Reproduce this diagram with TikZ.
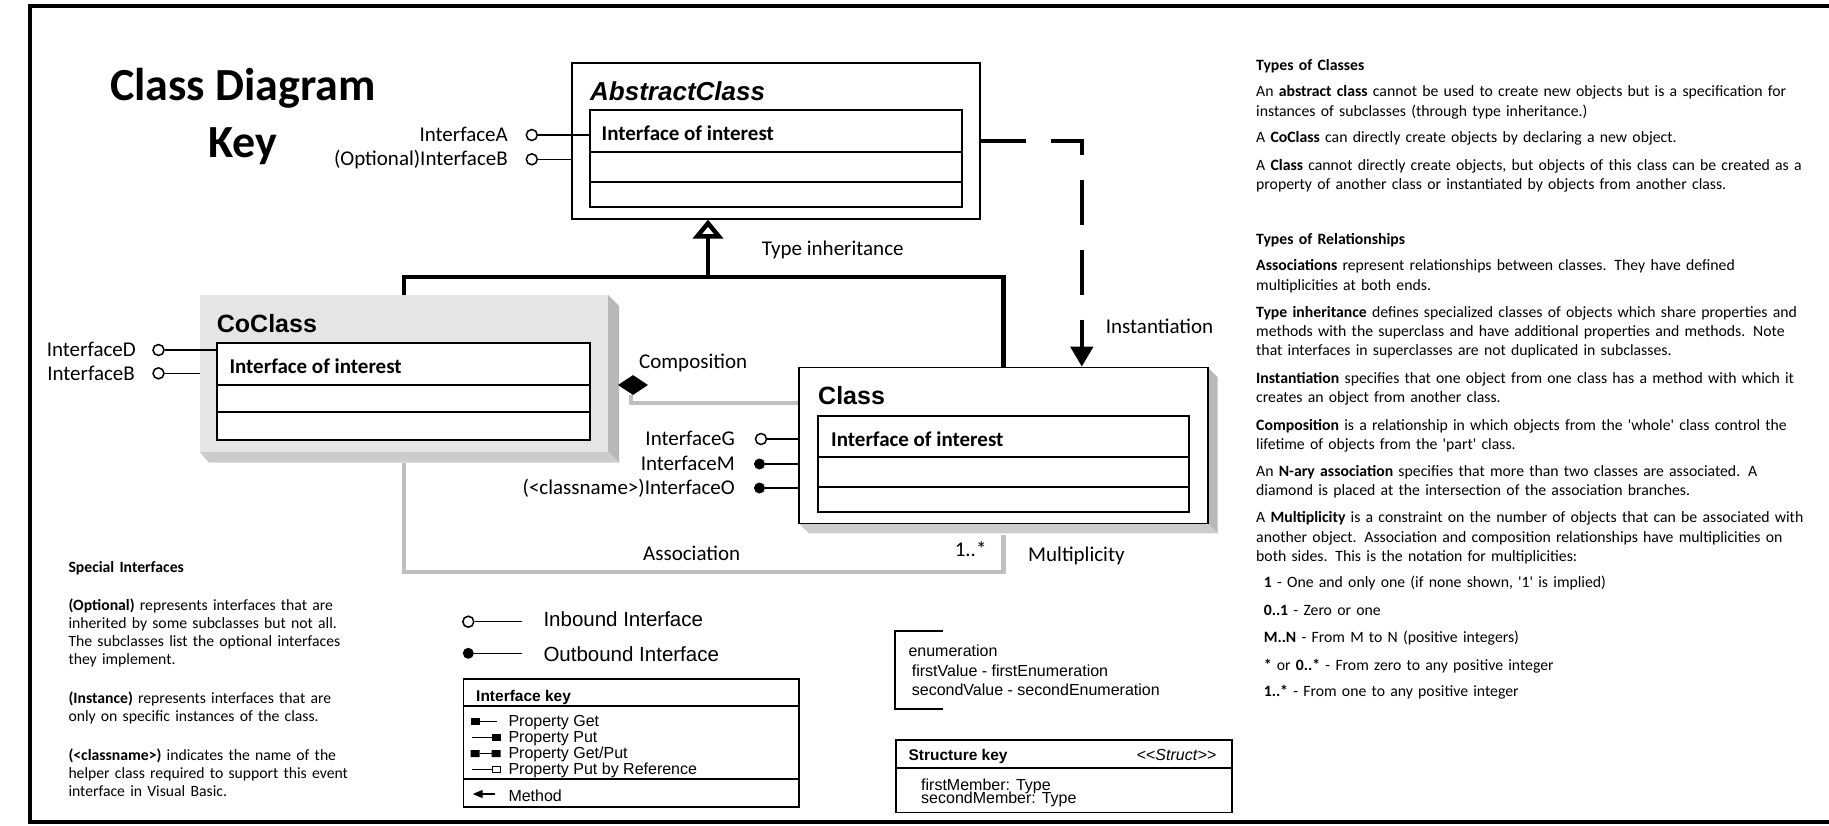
\documentclass[tikz,border=0pt]{standalone}
\usepackage{fontspec}
\setmainfont{Carlito}
\newfontfamily\arialfont{Liberation Sans}
\usetikzlibrary{arrows.meta,shapes.geometric}

\newcommand{\sq}{\textquotesingle}

\begin{document}
\begin{tikzpicture}[x=1pt,y=-1pt,
    lbl/.style={inner sep=0pt,anchor=base west,font=\fontsize{21}{25}\selectfont},
    cname/.style={inner sep=0pt,anchor=base west,font=\arialfont\bfseries\fontsize{25}{30}\selectfont},
    ioi/.style={inner sep=0pt,anchor=base west,font=\bfseries\fontsize{21}{25}\selectfont},
    box/.style={draw,line width=1.6pt,fill=white,inner sep=0pt,anchor=north west},
    ibox/.style={draw,line width=2pt,fill=white,inner sep=0pt,anchor=north west},
    inbound/.style={circle,draw,fill=white,line width=1.5pt,inner sep=0pt,minimum size=11pt},
    outbound/.style={circle,fill=black,inner sep=0pt,minimum size=11pt},
    wire/.style={line width=1.5pt},
    inherit/.style={line width=4.5pt},
    inst/.style={line width=4.5pt,dash pattern=on 45pt off 25pt,-{Triangle[length=20pt,width=22pt]}},
    grayrel/.style={line width=4.2pt,black!25},
    sidedark/.style={fill=black!28},
    sidelight/.style={fill=black!20},
    para/.style={inner sep=0pt,anchor=base west,text width=560pt,align=left,font=\fontsize{15.75}{19.3}\selectfont},
    spara/.style={para,text width=400pt,font=\fontsize{15.7}{18.3}\selectfont},
    key/.style={inner sep=0pt,anchor=base west,font=\arialfont\fontsize{16}{16}\selectfont},
    keybox/.style={draw,line width=1.7pt,inner sep=0pt,anchor=north west}]
    \useasboundingbox (0,0) rectangle (1829,825);
    \draw[line width=3.5pt] (1840,6) -- (30,6) -- (30,822) -- (1840,822);

    % title
    \node[inner sep=0pt,anchor=base,font=\bfseries\fontsize{46}{57}\selectfont] (title) at (243,100) {Class Diagram};
    \node[inner sep=0pt,anchor=base,font=\bfseries\fontsize{46}{57}\selectfont] (titlekey) at (243,157) {Key};

    % shadows
    \fill[sidedark] (608,295) -- (619,306) -- (619,462.7) -- (608,451.7) -- cycle;
    \fill[sidelight] (199.5,451.7) -- (608,451.7) -- (619,462.7) -- (209,462.7) -- cycle;
    \fill[sidedark] (1207,366.7) -- (1217.6,377.3) -- (1217.6,533.3) -- (1207,522.7) -- cycle;
    \fill[sidelight] (798.4,522.7) -- (1207,522.7) -- (1217.6,533.3) -- (809,533.3) -- cycle;

    % AbstractClass
    \node[box,minimum width=408,minimum height=156] (abs) at (571,62) {};
    \node[ibox,minimum width=372,minimum height=96.4] (absi) at (589,109.3) {};
    \draw[line width=2pt] (589,151.7) -- (961,151.7) (589,181.7) -- (961,181.7);
    \node[cname,font=\arialfont\bfseries\itshape\fontsize{26}{30}\selectfont] (absname) at (590,100) {AbstractClass};
    \node[ioi] (absioi) at (601.5,140) {Interface of interest};

    % CoClass
    \node[inner sep=0pt,fill=black!10,anchor=north west,minimum width=408.5,minimum height=156.7] (co) at (199.5,295) {};
    \node[ibox,minimum width=373.3,minimum height=96.7] (coi) at (216,342.3) {};
    \draw[line width=2pt] (216,385) -- (589.3,385) (216,412.3) -- (589.3,412.3);
    \node[cname] (coname) at (216.7,332.7) {CoClass};
    \node[ioi] (coioi) at (229.3,373.3) {Interface of interest};

    % Class
    \node[box,minimum width=408.6,minimum height=156] (cls) at (798.4,366.7) {};
    \node[ibox,minimum width=371.5,minimum height=96] (clsi) at (816.5,415) {};
    \draw[line width=2pt] (816.5,457.3) -- (1188,457.3) (816.5,486.7) -- (1188,486.7);
    \node[cname] (clsname) at (818,404) {Class};
    \node[ioi] (clsioi) at (831,446.7) {Interface of interest};

    % relationships
    \draw[grayrel] ([yshift=-11pt]co.south) |- ([yshift=-47.3pt]cls.south) -- ([yshift=-10.6pt]cls.south);
    \node[diamond,fill=black,inner sep=0pt,minimum width=30pt,minimum height=20pt] (comp) at (633,385) {};
    \draw[grayrel] ([xshift=-2pt]comp.south) |- (cls.west |- 0,403);

    \draw[inherit] (co.north) -- ++(0,-18) -| (cls.north);
    \coordinate (join) at (708,277);
    \draw[inherit,-{Triangle[open,length=19pt,width=30pt]}] (join) -- (abs.south -| join);
    \draw[inst] (abs.east) -| ([xshift=78.3pt]cls.north);

    \node[lbl] (inhlabel) at (761.7,255) {Type inheritance};
    \node[lbl] (instlabel) at (1105.7,333) {Instantiation};
    \node[lbl] (complabel) at (639,368.3) {Composition};
    \node[lbl] (asslabel) at (643,560) {Association};
    \node[lbl] (multval) at (954.6,556.7) {1..*};
    \node[lbl] (multlabel) at (1028,561.7) {Multiplicity};

    % interfaces
    \node[inbound] (ifa) at (531.8,135) {};
    \node[inbound] (ifb) at (531.8,159.3) {};
    \draw[wire] (ifa) -- (absi.west |- ifa);
    \draw[wire] (ifb) -- (abs.west |- ifb);
    \node[lbl,anchor=base east] (ifalabel) at (508,141.7) {InterfaceA};
    \node[lbl,anchor=base east] (ifblabel) at (508,165.7) {(Optional)InterfaceB};

    \node[inbound] (ifd) at (158.5,350) {};
    \node[inbound] (ifcb) at (158.5,373.3) {};
    \draw[wire] (ifd) -- (coi.west |- ifd);
    \draw[wire] (ifcb) -- (co.west |- ifcb);
    \node[lbl,anchor=base east] (ifdlabel) at (136,356.7) {InterfaceD};
    \node[lbl,anchor=base east] (ifcblabel) at (135,380) {InterfaceB};

    \node[inbound] (ifg) at (761,439) {};
    \node[outbound] (ifm) at (759.5,464) {};
    \node[outbound] (ifo) at (759.5,488) {};
    \foreach \n in {ifg,ifm,ifo}
    {
        \draw[wire] (\n) -- (cls.west |- \n);
    }
    \node[lbl,anchor=base east] (ifglabel) at (735,445.5) {InterfaceG};
    \node[lbl,anchor=base east] (ifmlabel) at (735,470.5) {InterfaceM};
    \node[lbl,anchor=base east] (ifolabel) at (735,494.5) {(<classname>)InterfaceO};

    % legend
    \node[inbound] (inb) at (468.3,621.7) {};
    \coordinate (inbend) at (521.7,621.7);
    \draw[wire] (inb) -- (inbend);
    \node[key,font=\arialfont\fontsize{20.5}{24}\selectfont] (inblabel) at (543.3,626.7) {Inbound Interface};
    \node[outbound] (outb) at (468.3,653.3) {};
    \coordinate (outbend) at (521.7,653.3);
    \draw[wire] (outb) -- (outbend);
    \node[key,font=\arialfont\fontsize{20.5}{24}\selectfont] (outblabel) at (543.3,661.7) {Outbound Interface};

    \node[keybox,minimum width=335.6,minimum height=127.7] (ikey) at (462.7,678.3) {};
    \draw[line width=1.7pt] (462.7,706) -- (798.3,706) (462.7,779.3) -- (798.3,779.3);
    \node[key,font=\arialfont\bfseries\fontsize{15.5}{18}\selectfont] (ikeylabel) at (476,701) {Interface key};
    \foreach \y/\t in {726.5/Property Get,742.5/Property Put,758.5/{Property Get/Put},774.5/Property Put by Reference}
    {
        \node[key] at (508.3,\y) {\t};
    }
    \fill (470.7,718) rectangle (479.7,725);
    \draw[wire] (479.7,721.5) -- (496.7,721.5);
    \draw[wire] (471.7,737.5) -- (491.7,737.5);
    \fill (491.7,734) rectangle (500.7,741);
    \fill (470.7,750) rectangle (479.7,757) (491.7,750) rectangle (500.7,757);
    \draw[wire] (479.7,753.5) -- (491.7,753.5);
    \draw[wire] (471.7,769.5) -- (491.7,769.5);
    \draw[line width=1.2pt] (492.3,766.3) rectangle (500.1,772.7);
    \draw[wire,-{Triangle[length=10pt,width=8pt]}] (495,794) -- (472.7,794);
    \node[key] (method) at (508.3,801) {Method};

    \draw[line width=1.7pt] (943.3,631) -- (895,631) -- (895,709.3) -- (943.3,709.3);
    \node[key] (enum) at (908.3,656.7) {enumeration};
    \node[key] (enumfirst) at (911.7,676) {firstValue - firstEnumeration};
    \node[key] (enumsecond) at (911.7,695) {secondValue - secondEnumeration};

    \node[keybox,minimum width=336,minimum height=72.4] (skey) at (895,739.3) {};
    \draw[line width=1.7pt] (895,768.3) -- (1231,768.3);
    \node[key,font=\arialfont\bfseries\fontsize{15.5}{18}\selectfont] (skeylabel) at (908.3,760) {Structure key};
    \node[key,anchor=base east] (skeystereo) at (1216.7,760) {<<\textit{Struct}>>};
    \node[key] (skeyfirst) at (921,790) {firstMember: Type};
    \node[key] (skeysecond) at (921,803.3) {secondMember: Type};

    % special interfaces
    \node[spara,font=\bfseries\fontsize{15.7}{18.3}\selectfont] (spec) at (68.3,572.3) {Special Interfaces};
    \node[spara] (specopt) at (68.3,610) {\textbf{(Optional)} represents interfaces that are\\inherited by some subclasses but not all.\\The subclasses list the optional interfaces\\they implement.};
    \node[spara] (specinst) at (68.3,703.3) {\textbf{(Instance)} represents interfaces that are\\only on specific instances of the class.};
    \node[spara] (speccls) at (68.3,760) {\textbf{(<classname>)} indicates the name of the\\helper class required to support this event\\interface in Visual Basic.};

    % types of classes
    \node[para,font=\bfseries\fontsize{15.75}{19.3}\selectfont] (toc) at (1256,70) {Types of Classes};
    \node[para] (tocabs) at (1256,96.7) {An \textbf{abstract class} cannot be used to create new objects but is a specification for\\instances of subclasses (through type inheritance.)};
    \node[para] (tocco) at (1256,142.7) {A \textbf{CoClass} can directly create objects by declaring a new object.};
    \node[para] (toccls) at (1256,170) {A \textbf{Class} cannot directly create objects, but objects of this class can be created as a\\property of another class or instantiated by objects from another class.};

    % types of relationships
    \node[para,font=\bfseries\fontsize{15.75}{19.3}\selectfont] (tor) at (1256,244) {Types of Relationships};
    \node[para] (torass) at (1256,270.7) {\textbf{Associations} represent relationships between classes. They have defined\\multiplicities at both ends.};
    \node[para] (torinh) at (1256,317.3) {\textbf{Type inheritance} defines specialized classes of objects which share properties and\\methods with the superclass and have additional properties and methods. Note\\that interfaces in superclasses are not duplicated in subclasses.};
    \node[para] (torinst) at (1256,383.3) {\textbf{Instantiation} specifies that one object from one class has a method with which it\\creates an object from another class.};
    \node[para] (torcomp) at (1256,430) {\textbf{Composition} is a relationship in which objects from the \sq whole\sq{} class control the\\lifetime of objects from the \sq part\sq{} class.};
    \node[para] (tornary) at (1256,476) {An \textbf{N-ary association} specifies that more than two classes are associated. A\\diamond is placed at the intersection of the association branches.};
    \node[para] (tormult) at (1256,522.7) {A \textbf{Multiplicity} is a constraint on the number of objects that can be associated with\\another object. Association and composition relationships have multiplicities on\\both sides. This is the notation for multiplicities:};
    \node[para] (multone) at (1263.6,587.7) {\textbf{1} - One and only one (if none shown, \sq 1\sq{} is implied)};
    \node[para] (multopt) at (1263.6,615) {\textbf{0..1} - Zero or one};
    \node[para] (multmn) at (1263.6,642.7) {\textbf{M..N} - From M to N (positive integers)};
    \node[para] (multany) at (1263.6,670) {\textbf{*} or \textbf{0..*} - From zero to any positive integer};
    \node[para] (multmany) at (1263.6,696.7) {\textbf{1..*} - From one to any positive integer};

\end{tikzpicture}
\end{document}
